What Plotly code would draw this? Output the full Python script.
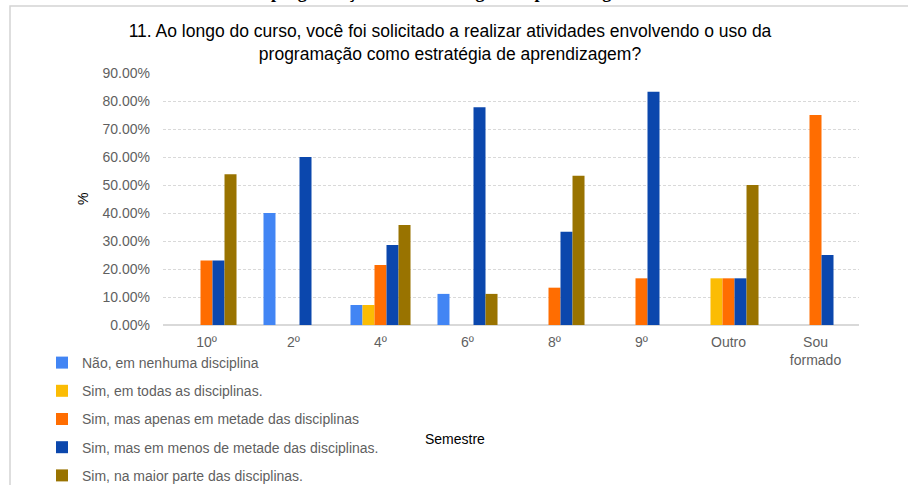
import plotly.graph_objects as go

# semesters on the x axis
semestres = ["10º", "2º", "4º", "6º", "8º", "9º", "Outro", "Sou<br>formado"]

# answer series, values in %
nao_nenhuma = [None, 40.00, 7.14, 11.11, None, None, None, None]
sim_todas = [None, None, 7.14, None, None, None, 16.67, None]
sim_metade = [23.08, None, 21.43, None, 13.33, 16.67, 16.67, 75.00]
sim_menos_metade = [23.08, 60.00, 28.57, 77.78, 33.33, 83.33, 16.67, 25.00]
sim_maior_parte = [53.85, None, 35.71, 11.11, 53.33, None, 50.00, None]

series = [
    ("Não, em nenhuma disciplina", nao_nenhuma, "#4285F4"),
    ("Sim, em todas as disciplinas.", sim_todas, "#FBBC04"),
    ("Sim, mas apenas em metade das disciplinas", sim_metade, "#FF6D01"),
    ("Sim, mas em menos de metade das disciplinas.", sim_menos_metade, "#0B47AD"),
    ("Sim, na maior parte das disciplinas.", sim_maior_parte, "#997300"),
]

W, H = 908, 485
L, R, T, B = 163, 49, 73, 160
PW, PH = W - L - R, H - T - B


def px_x(x):
    return (x - L) / PW


def px_y(y):
    return (H - B - y) / PH


fig = go.Figure()
for i, (name, vals, color) in enumerate(series):
    fig.add_trace(go.Bar(
        x=semestres, y=vals, name=name,
        marker=dict(color=color, line=dict(width=0)),
        legendgroup=f"g{i}",
    ))

fig.update_layout(
    width=W, height=H,
    margin=dict(l=L, r=R, t=T, b=B, autoexpand=False),
    paper_bgcolor="white", plot_bgcolor="white",
    font=dict(family="Liberation Sans, Arial, sans-serif", size=14, color="#5f5f5f"),
    barmode="group", bargap=0.31, bargroupgap=0,
    title=dict(
        text="11. Ao longo do curso, você foi solicitado a realizar atividades envolvendo o uso da<br>programação como estratégia de aprendizagem?",
        font=dict(size=17.5, color="#000000"),
        x=450 / W, xanchor="center", xref="container",
        y=1 - 37 / H, yanchor="top", yref="container",
    ),
    xaxis=dict(
        showgrid=False, showline=False, ticks="",
        ticklabelstandoff=7,
        tickfont=dict(size=14, color="#5f5f5f"),
        automargin=False,
    ),
    yaxis=dict(
        range=[0, 90], dtick=10, tickformat=".2f", ticksuffix="%",
        showgrid=True, gridcolor="#d9d9d9", griddash="3px,2px", gridwidth=1,
        zeroline=True, zerolinecolor="#d9d9d9", zerolinewidth=2,
        ticks="", ticklabelstandoff=12,
        tickfont=dict(size=14, color="#5f5f5f"),
        automargin=False,
    ),
    legend=dict(
        orientation="v", traceorder="grouped", tracegroupgap=7,
        xref="container", yref="container",
        x=42 / W, xanchor="left", y=1 - 347 / H, yanchor="top",
        font=dict(size=14, color="#5f5f5f"), bgcolor="rgba(0,0,0,0)",
        itemwidth=30,
    ),
    # page frame around the chart
    shapes=[dict(
        type="rect", xref="paper", yref="paper",
        x0=px_x(10), x1=px_x(W + 20), y0=px_y(H + 20), y1=px_y(6),
        line=dict(color="#d4d4d4", width=1.5), fillcolor="rgba(0,0,0,0)", layer="below",
    )],
    annotations=[
        # axis titles
        dict(text="%", textangle=-90, xref="paper", yref="paper",
             x=px_x(83), y=0.5, xanchor="center", yanchor="middle", showarrow=False,
             font=dict(size=14, color="#000000")),
        dict(text="Semestre", xref="paper", yref="paper",
             x=px_x(455), y=px_y(439), xanchor="center", yanchor="middle", showarrow=False,
             font=dict(size=14, color="#000000")),
        # document text cut off above the chart frame
        dict(text="<b>programação como estratégia de aprendizagem</b>",
             xref="paper", yref="paper", x=px_x(452), y=px_y(4),
             xanchor="center", yanchor="bottom", showarrow=False,
             font=dict(family="Liberation Serif, serif", size=18, color="#000000")),
    ],
)

fig.write_html(
    "out.html",
    config={"displayModeBar": False},
    post_script="document.body.style.margin='0px';document.body.style.overflow='hidden';",
)
